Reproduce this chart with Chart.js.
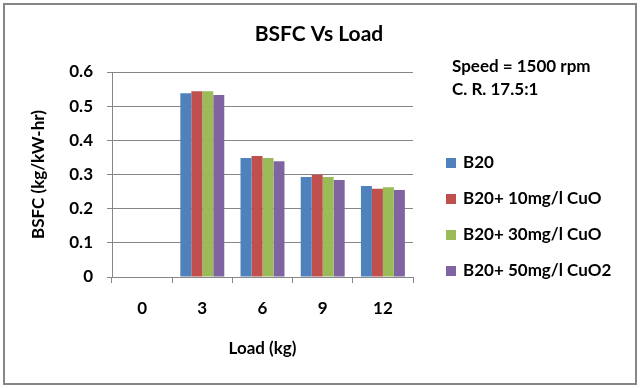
<!DOCTYPE html>
<html>
<head>
<meta charset="utf-8">
<script src="https://cdn.jsdelivr.net/npm/chart.js@4"></script>
<style>
  html, body { margin: 0; padding: 0; background: #ffffff; }
  #wrap { width: 640px; height: 388px; }
</style>
</head>
<body>
<div id="wrap"><canvas id="bsfcChart" width="640" height="388"></canvas></div>
<script>
const FONT = "Lato, 'Open Sans', sans-serif";
const AXIS_COLOR = "#868686";

const loads = ["0", "3", "6", "9", "12"];
const seriesNames = ["B20", "B20+ 10mg/l CuO", "B20+ 30mg/l CuO", "B20+ 50mg/l CuO2"];
const b20 = [0, 0.538, 0.348, 0.293, 0.266];
const b20Cu10 = [0, 0.544, 0.354, 0.299, 0.258];
const b20Cu30 = [0, 0.544, 0.348, 0.293, 0.263];
const b20Cu50 = [0, 0.533, 0.339, 0.284, 0.255];
const yTicks = [0, 0.1, 0.2, 0.3, 0.4, 0.5, 0.6];
const notes = ["Speed = 1500 rpm", "C. R. 17.5:1"];
const colors = ["#4F81BD", "#C0504D", "#9BBB59", "#8064A2"];

// title, notes, legend and frame are painted by hand so they sit where Excel put them
const decorPlugin = {
  id: "decor",
  afterDraw(chart) {
    const ctx = chart.ctx;
    ctx.save();
    ctx.strokeStyle = AXIS_COLOR;
    ctx.lineWidth = 2;
    ctx.strokeRect(4, 4, 632, 380);

    ctx.fillStyle = "#000000";
    ctx.textBaseline = "middle";
    ctx.textAlign = "center";
    ctx.font = "bold 21px " + FONT;
    ctx.fillText("BSFC Vs Load", 319, 34);

    ctx.textAlign = "left";
    ctx.font = "bold 17px " + FONT;
    ctx.fillText(notes[0], 452, 67);
    ctx.fillText(notes[1], 452, 90);

    chart.data.datasets.forEach((ds, i) => {
      const y = 163 + i * 36;
      ctx.fillStyle = ds.backgroundColor;
      ctx.fillRect(446, y - 5, 10, 10);
      ctx.fillStyle = "#000000";
      ctx.fillText(ds.label, 463, y);
    });
    ctx.restore();
  },
};

new Chart(document.getElementById("bsfcChart"), {
  type: "bar",
  data: {
    labels: loads,
    datasets: [
      { label: seriesNames[0], data: b20, backgroundColor: colors[0] },
      { label: seriesNames[1], data: b20Cu10, backgroundColor: colors[1] },
      { label: seriesNames[2], data: b20Cu30, backgroundColor: colors[2] },
      { label: seriesNames[3], data: b20Cu50, backgroundColor: colors[3] },
    ],
  },
  plugins: [decorPlugin],
  options: {
    responsive: false,
    animation: false,
    devicePixelRatio: 1,
    layout: { padding: { left: 5, right: 227, top: 72, bottom: 5 } },
    datasets: { bar: { categoryPercentage: 0.73, barPercentage: 1 } },
    plugins: {
      legend: { display: false },
      title: { display: false },
      tooltip: { enabled: false },
    },
    scales: {
      x: {
        offset: true,
        grid: {
          offset: true,
          drawOnChartArea: false,
          drawTicks: true,
          tickLength: 6,
          color: AXIS_COLOR,
        },
        border: { display: true, color: AXIS_COLOR },
        ticks: {
          color: "#000000",
          padding: 15,
          font: { family: FONT, size: 17, weight: "bold" },
        },
        title: {
          display: true,
          text: "Load (kg)",
          color: "#000000",
          padding: { top: 4, bottom: 24 },
          font: { family: FONT, size: 17, weight: "bold" },
        },
        afterFit(scale) { scale.height = 106; },
      },
      y: {
        min: 0,
        max: 0.6,
        afterBuildTicks(scale) { scale.ticks = yTicks.map((v) => ({ value: v })); },
        grid: { color: AXIS_COLOR, tickLength: 5 },
        border: { display: true, color: AXIS_COLOR },
        ticks: {
          color: "#000000",
          padding: 14,
          font: { family: FONT, size: 17, weight: "bold" },
          callback: (v) => String(Math.round(v * 10) / 10),
        },
        title: {
          display: true,
          text: "BSFC (kg/kW-hr)",
          color: "#000000",
          padding: { top: 23, bottom: 0 },
          font: { family: FONT, size: 17, weight: "bold" },
        },
        afterFit(scale) { scale.width = 107; },
      },
    },
  },
});
</script>
</body>
</html>
